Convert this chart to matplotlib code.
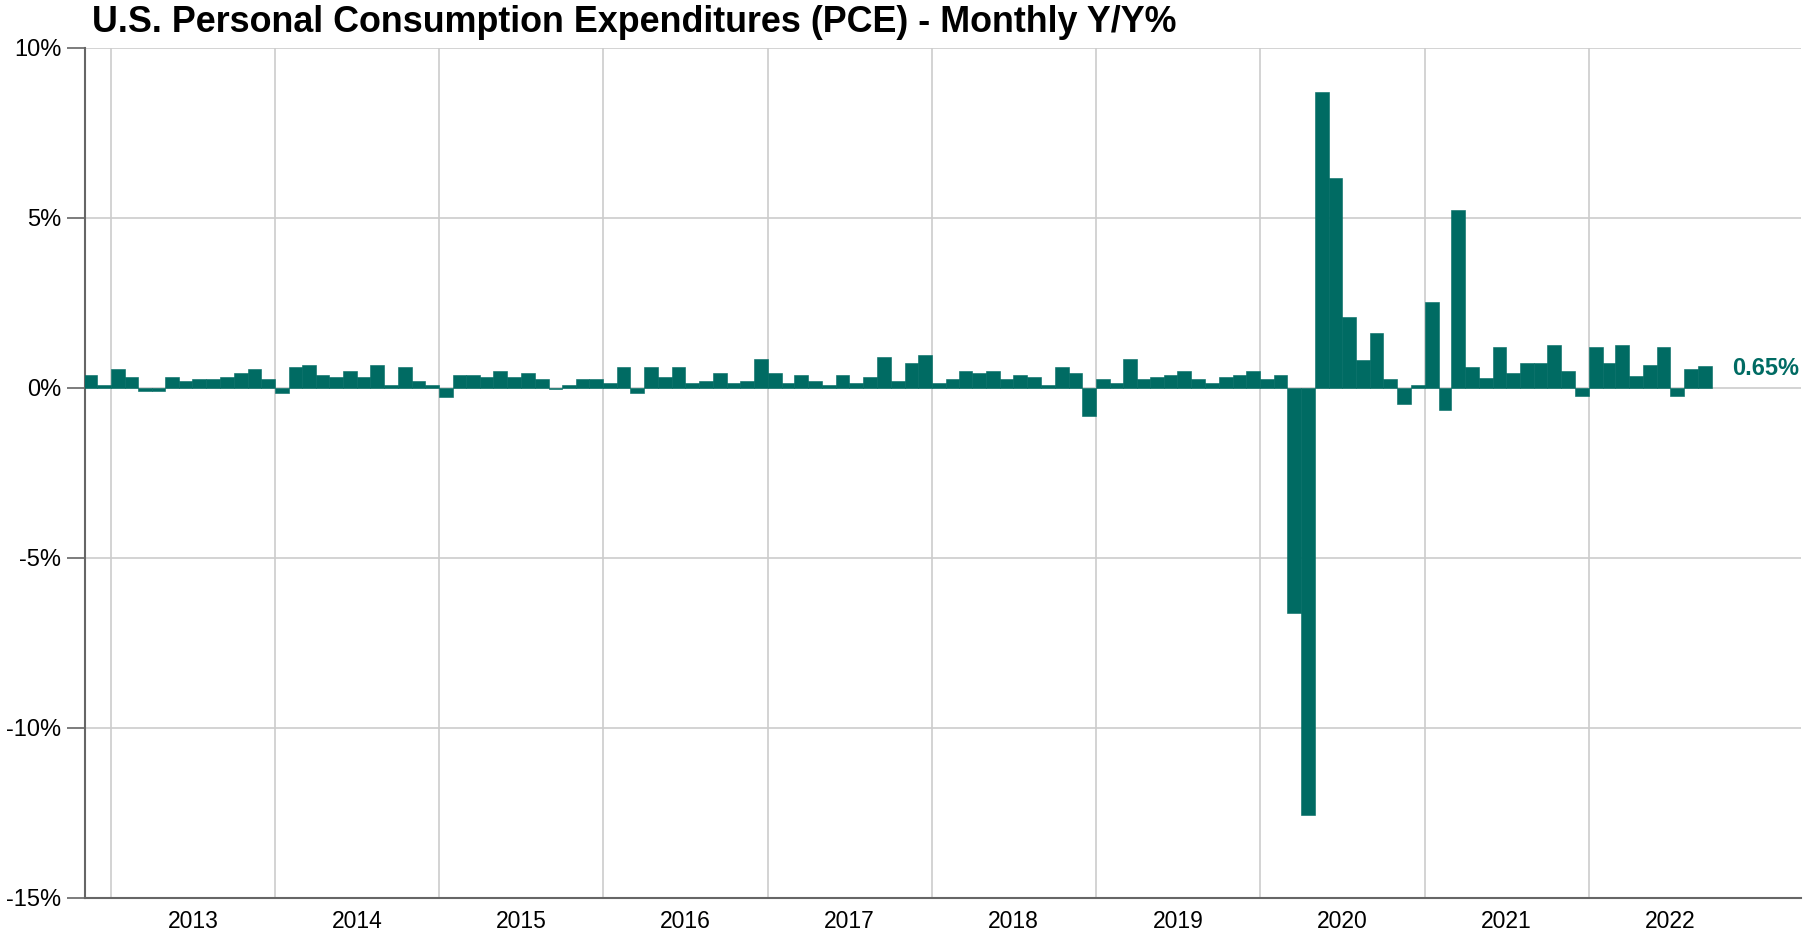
import numpy as np
import pandas as pd
import matplotlib
matplotlib.use('Agg')
import matplotlib.pyplot as plt
import matplotlib.dates as mdates

plt.rcParams['font.family'] = ['Liberation Sans', 'DejaVu Sans']

bar_color = '#006b63'
grid_color = '#cccccc'
axis_color = '#666666'

# monthly % change, one list per year (first bar = Nov 2012)
pce_2012 = [0.38, 0.09]
pce_2013 = [0.56, 0.32, -0.09, -0.09, 0.32, 0.21, 0.26, 0.26, 0.32, 0.44, 0.56, 0.26]
pce_2014 = [-0.15, 0.62, 0.68, 0.38, 0.32, 0.50, 0.32, 0.68, 0.09, 0.62, 0.21, 0.09]
pce_2015 = [-0.28, 0.38, 0.38, 0.32, 0.50, 0.32, 0.44, 0.26, -0.03, 0.09, 0.26, 0.26]
pce_2016 = [0.15, 0.62, -0.15, 0.62, 0.32, 0.62, 0.15, 0.21, 0.44, 0.15, 0.21, 0.85]
pce_2017 = [0.44, 0.15, 0.38, 0.21, 0.09, 0.38, 0.15, 0.32, 0.91, 0.21, 0.74, 0.97]
pce_2018 = [0.15, 0.26, 0.50, 0.44, 0.50, 0.26, 0.38, 0.32, 0.09, 0.62, 0.44, -0.82]
pce_2019 = [0.26, 0.15, 0.85, 0.26, 0.32, 0.38, 0.50, 0.26, 0.15, 0.32, 0.38, 0.50]
pce_2020 = [0.26, 0.38, -6.62, -12.55, 8.69, 6.16, 2.07, 0.83, 1.60, 0.25, -0.48, 0.07]
pce_2021 = [2.51, -0.66, 5.22, 0.60, 0.30, 1.19, 0.42, 0.72, 0.72, 1.25, 0.48, -0.25]
pce_2022 = [1.19, 0.72, 1.25, 0.36, 0.66, 1.19, -0.25, 0.54, 0.65]

values = np.array(pce_2012 + pce_2013 + pce_2014 + pce_2015 + pce_2016 + pce_2017
                  + pce_2018 + pce_2019 + pce_2020 + pce_2021 + pce_2022)
months = pd.date_range('2012-11-01', periods=len(values) + 1, freq='MS')

years = list(range(2013, 2023))
y_ticks = [10, 5, 0, -5, -10, -15]
last_label = '0.65%'

fig = plt.figure(figsize=(18.2, 9.34), dpi=100)
ax = fig.add_axes([85 / 1820, 1 - 898 / 934, (1801 - 85) / 1820, (898 - 47.6) / 934])

starts = mdates.date2num(months[:-1])
widths = np.diff(mdates.date2num(months))
ax.bar(starts, values, width=widths, align='edge', color=bar_color,
       edgecolor=bar_color, linewidth=0.4, zorder=3)

ax.set_ylim(-15, 10)
ax.set_xlim(mdates.date2num(pd.Timestamp('2012-11-04')),
            mdates.date2num(pd.Timestamp('2023-04-18')))

ax.set_yticks(y_ticks)
ax.set_yticklabels([f'{t}%' for t in y_ticks])
ax.tick_params(axis='y', length=13, width=1.2, color=axis_color, pad=4,
               labelsize=17, labelcolor='black')

ax.set_xticks([mdates.date2num(pd.Timestamp(f'{y}-01-01')) for y in years])
ax.set_xticklabels([])
ax.set_xticks([mdates.date2num(pd.Timestamp(f'{y}-07-02')) for y in years], minor=True)
ax.set_xticklabels([str(y) for y in years], minor=True)
ax.tick_params(axis='x', which='both', length=0, pad=9, labelsize=16.5,
               labelcolor='black')

ax.grid(True, which='major', color=grid_color, linewidth=1.2, zorder=0)
ax.set_axisbelow(True)

for side in ['top', 'right']:
    ax.spines[side].set_visible(False)
for side in ['left', 'bottom']:
    ax.spines[side].set_color(axis_color)
    ax.spines[side].set_linewidth(1.5)

ax.annotate(last_label, xy=(mdates.date2num(months[-1]), values[-1]),
            xytext=(15, -2), textcoords='offset points', ha='left', va='center',
            color=bar_color, fontsize=17, fontweight='bold')

fig.text(92 / 1820, 1 - 32 / 934, 'U.S. Personal Consumption Expenditures (PCE) - Monthly Y/Y%',
         fontsize=25.8, fontweight='bold', ha='left', va='baseline')

fig.savefig('out.png', dpi=100)
